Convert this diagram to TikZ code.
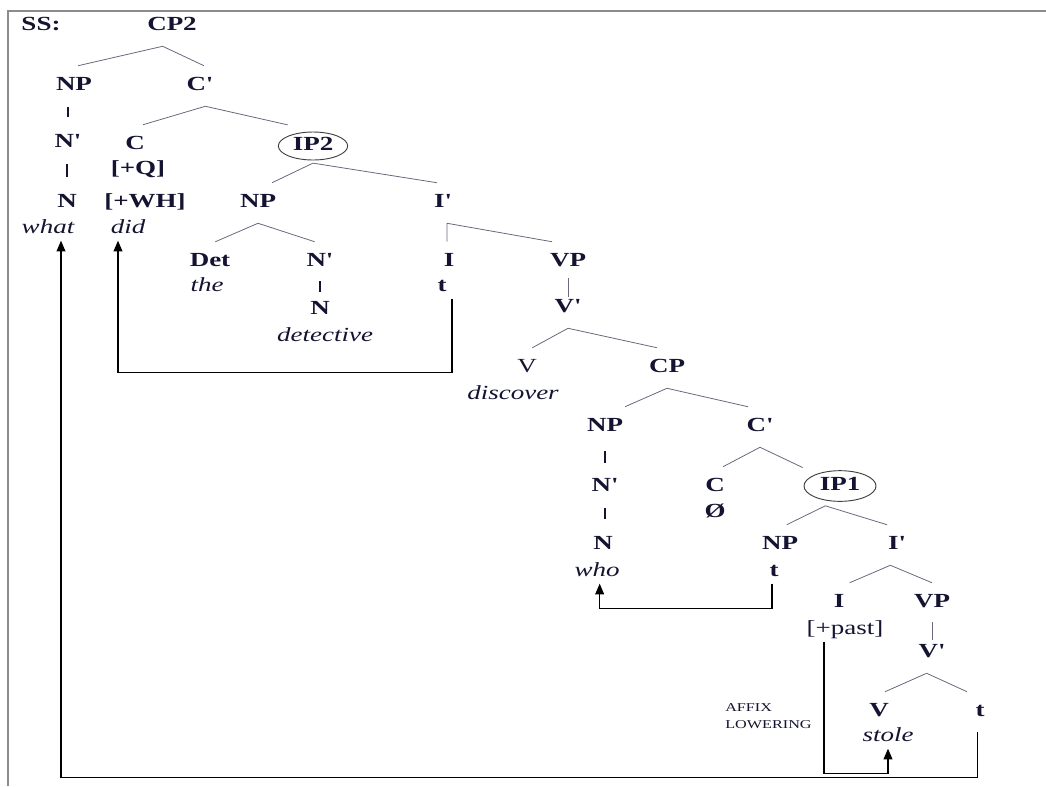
\documentclass[tikz,border=0pt]{standalone}
\usepackage{fontspec}
\setmainfont{Liberation Serif}[FakeStretch=1.35,Ligatures=TeXOff]
\usetikzlibrary{shapes,arrows.meta,positioning,calc}
\usepackage{xcolor}
\definecolor{ink}{RGB}{20,20,50}
\definecolor{branch}{RGB}{105,105,125}
\definecolor{framec}{RGB}{140,140,140}
\tikzset{
  >=Stealth,
  cat/.style={font=\fontsize{15}{18}\selectfont\bfseries,text=ink,inner sep=1pt,minimum height=30pt,text height=10pt,text depth=3pt},
  lex/.style={font=\fontsize{15}{18}\selectfont\itshape,text=ink,inner xsep=1pt,inner ysep=2pt,text height=10pt,text depth=3pt},
  feat/.style={lex,font=\fontsize{15}{18}\selectfont\bfseries},
  plain/.style={lex,font=\fontsize{15}{18}\selectfont},
  ring/.style={cat,ellipse,draw=black!75,line width=0.7pt,minimum width=52pt,minimum height=21pt,inner sep=0pt},
  note/.style={font=\fontsize{9}{12.75}\selectfont,text=ink,align=left,inner sep=0pt},
  br/.style={draw=branch,line width=0.6pt},
  bar/.style={draw=ink,line width=1.2pt},
  mv/.style={draw=black,line width=1.1pt,-{Triangle[length=8pt,width=6.5pt]}},
  edge/.style={draw=framec,line width=1.4pt}
}
\begin{document}
\begin{tikzpicture}[x=0.75pt,y=-0.75pt]
\useasboundingbox (0,0) rectangle (1046,786);
\draw[edge] (8,786) |- (1046,11);
\node[cat] (ss) at (41,26) {SS:};
\node[cat] (cp2) at (172,26) {CP2};
\node[cat] (np1) at (74,86) {NP};
\node[cat] (nb1) at (68,143) {N'};
\node[cat] (n1) at (67,203) {N};
\node[lex] (what) at (48,229) {what};
\node[cat] (cb2) at (200,86) {C'};
\node[cat] (c2) at (135,145) {C};
\node[feat] (q) at (138,170) {[+Q]};
\node[feat] (wh) at (145,203) {[+WH]};
\node[lex] (did) at (128,229) {did};
\node[ring] (ip2) at (313,146) {IP2};
\node[cat] (np2) at (258,203) {NP};
\node[cat] (det) at (210,262) {Det};
\node[lex] (the) at (207,287) {the};
\node[cat] (nb2) at (320,262) {N'};
\node[cat] (n2) at (320,310) {N};
\node[lex] (detective) at (325,337) {detective};
\node[cat] (ib2) at (443,203) {I'};
\node[cat] (i2) at (449,262) {I};
\node[feat] (t1) at (442,287) {t};
\node[cat] (vp2) at (568,262) {VP};
\node[cat] (vb2) at (568,308) {V'};
\node[cat,font=\fontsize{15}{18}\selectfont] (v2) at (527,368) {V};
\node[lex] (discover) at (513,395) {discover};
\node[cat] (cp1) at (667,368) {CP};
\node[cat] (np3) at (605,427) {NP};
\node[cat] (nb3) at (605,487) {N'};
\node[cat] (n3) at (603,545) {N};
\node[lex] (who) at (597,572) {who};
\node[cat] (cb1) at (760,427) {C'};
\node[cat] (c1) at (715,487) {C};
\node[feat] (zero) at (715,513) {Ø};
\node[ring,minimum width=54pt,minimum height=23pt] (ip1) at (840,486) {IP1};
\node[cat] (np4) at (780,545) {NP};
\node[feat] (t2) at (774,572) {t};
\node[cat] (ib1) at (897,545) {I'};
\node[cat] (i1) at (839,603) {I};
\node[plain] (past) at (845,630) {[+past]};
\node[cat] (vp1) at (932,603) {VP};
\node[cat] (vb1) at (932,653) {V'};
\node[cat] (v1) at (879,712) {V};
\node[lex] (stole) at (888,737) {stole};
\node[cat] (t3) at (980,712) {t};
\node[note,anchor=west] (affix) at (725,716) {AFFIX\\LOWERING};
\draw[br] ([xshift=-7pt]cp2.south) -- ([xshift=3pt]np1.north);
\draw[br] ([xshift=-7pt]cp2.south) -- ([xshift=3pt]cb2.north);
\draw[bar,shorten <=0.75pt,shorten >=4pt] (np1.south -| nb1) -- (nb1.north);
\draw[bar,shorten <=0.75pt,shorten >=4pt] (nb1.south -| n1) -- (n1.north);
\draw[br] ([xshift=4pt]cb2.south) -- ([xshift=6pt]c2.north);
\draw[br] ([xshift=4pt]cb2.south) -- ([shift={(-19pt,5pt)}]ip2.north);
\draw[br] ([yshift=-2pt]ip2.south) -- ([xshift=10.5pt]np2.north);
\draw[br] ([yshift=-2pt]ip2.south) -- ([xshift=-4.5pt]ib2.north);
\draw[br] (np2.south) -- ([xshift=4pt]det.north);
\draw[br] (np2.south) -- ([xshift=-4pt]nb2.north);
\draw[bar,shorten <=-0.75pt,shorten >=-1.5pt] (nb2.south) -- (n2.north);
\draw[br] ([xshift=-1.5pt]i2.north) -- ([xshift=3pt]ib2.south) -- ([xshift=-12pt]vp2.north);
\draw[br,shorten <=-3pt,shorten >=-6.75pt] (vp2.south) -- (vb2.north);
\draw[br] (vb2.south) -- ([xshift=4pt]v2.north);
\draw[br] (vb2.south) -- ([xshift=-7.5pt]cp1.north);
\draw[br] (cp1.south) -- ([xshift=15pt]np3.north);
\draw[br] (cp1.south) -- ([xshift=-9pt]cb1.north);
\draw[bar,shorten <=3pt,shorten >=3pt] (np3.south) -- (nb3.north);
\draw[bar,shorten <=0.75pt,shorten >=4pt] (nb3.south) -- (nb3.south |- n3.north);
\draw[br] (cb1.south) -- ([xshift=6pt]c1.north);
\draw[br] (cb1.south) -- ([shift={(-28pt,2pt)}]ip1.north);
\draw[br] ([xshift=-11pt,yshift=-3pt]ip1.south) -- ([xshift=5pt]np4.north);
\draw[br] ([xshift=-11pt,yshift=-3pt]ip1.south) -- ([xshift=-7.5pt]ib1.north);
\draw[br] ([xshift=-5pt]ib1.south) -- ([xshift=8pt]i1.north);
\draw[br] ([xshift=-5pt]ib1.south) -- (vp1.north);
\draw[br,shorten <=-0.75pt,shorten >=-5.25pt] (vp1.south) -- (vb1.north);
\draw[br] ([xshift=-4pt]vb1.south) -- ([xshift=4.5pt]v1.north);
\draw[br] ([xshift=-4pt]vb1.south) -- ([xshift=-9.75pt]t3.north);
\draw[mv] ([xshift=7.5pt]t1.south) -- ++(0,74) -| ([xshift=-7.5pt]did.south);
\draw[mv] ([xshift=-1.5pt]t2.south) -- ++(0,25) -| ([xshift=2pt]who.south);
\draw[mv] ([xshift=-15.75pt]past.south) -- ++(0,132) -| (stole.south);
\draw[mv] ([xshift=-2pt]t3.south) -- ++(0,45) -| ([xshift=9.75pt]what.south);
\end{tikzpicture}
\end{document}
